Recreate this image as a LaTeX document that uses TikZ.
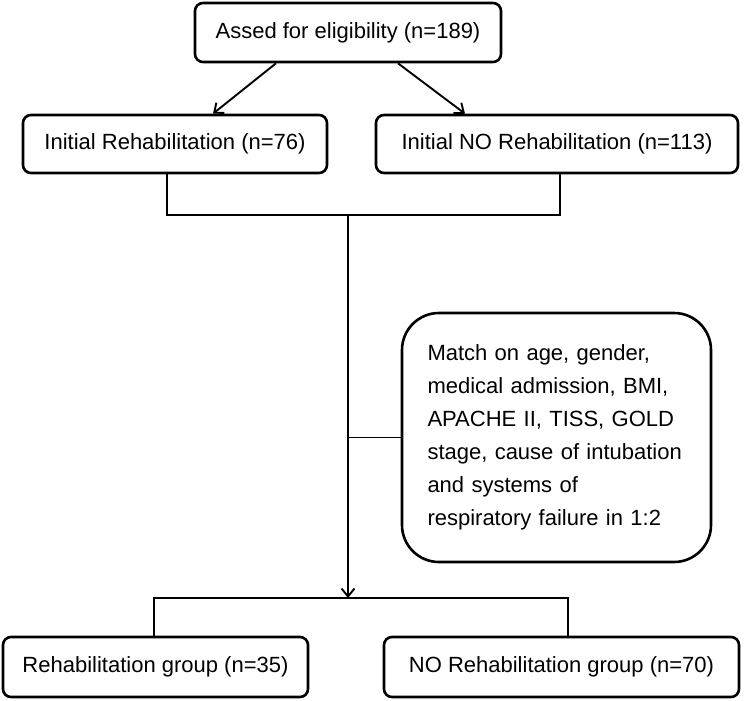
\documentclass[tikz,border=0pt]{standalone}
\usepackage{fontspec}
\setmainfont{Liberation Sans}
\usetikzlibrary{arrows,arrows.meta}
\usetikzlibrary{calc, positioning}
\tikzset{
    flowbox/.style args={#1 #2}{
        draw, line width=2.6pt, rounded corners=8pt, align=center,
        minimum width=#1, minimum height=#2, inner sep=0pt
    },
    flowbox/.default={300pt 58pt}
}
\tikzset{
    bareL/.style={line width=1.9pt},
    bareA/.style={line width=1.9pt, -{Straight Barb[length=8pt,width=13pt]}}
}
\begin{document}
\begin{tikzpicture}[x=1pt, y=-1pt]
    \def \fs {22}
    \tikzstyle{every node}=[font=\fontsize{\fs}{33}\selectfont];
    \useasboundingbox (0,0) rectangle (744,701);
    \coordinate (split) at (348,215);
    \coordinate (fork) at (348,598);
    \node[flowbox={306pt 59pt}] (elig) at (348,32.5) {Assed for eligibility (n=189)};
    \node[flowbox={304pt 58pt}] (rehabInit) at (175,144) {Initial Rehabilitation (n=76)};
    \node[flowbox={362pt 58pt}] (noInit) at (557,144) {Initial NO Rehabilitation (n=113)};
    \node[flowbox={309pt 249pt}, rounded corners=37pt, align=left, text width=258pt, inner xsep=25.5pt] (match) at (556.5,437.5)
        {Match on age, gender,\\ medical admission, BMI,\\ APACHE II, TISS, GOLD\\ stage, cause of intubation\\ and systems of\\ respiratory failure in 1:2};
    \node[flowbox={305pt 60pt}] (grpRehab) at (155.5,667) {Rehabilitation group (n=35)};
    \node[flowbox={355pt 60pt}] (grpNo) at (561.5,667) {NO Rehabilitation group (n=70)};
    \draw[bareA] ([xshift=-72pt]elig.south) -- ([xshift=38pt]rehabInit.north);
    \draw[bareA] ([xshift=50pt]elig.south) -- ([xshift=-92pt]noInit.north);
    \draw[bareL] ([xshift=-8pt]rehabInit.south) |- (split) -| ([xshift=3pt]noInit.south);
    \draw[bareA] (split) -- (fork);
    \draw[bareL] (match.west) -- (match.west -| split);
    \draw[bareL] ([xshift=-1.5pt]grpRehab.north) |- (fork) -| ([xshift=6.5pt]grpNo.north);
\end{tikzpicture}
\end{document}
